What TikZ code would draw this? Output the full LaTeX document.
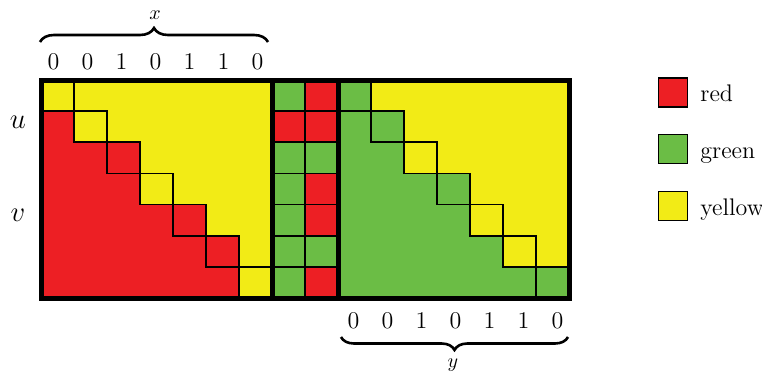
\documentclass[tikz,border=0pt]{standalone}
\usetikzlibrary{decorations.pathreplacing}
\definecolor{cred}{RGB}{237,31,36}
\definecolor{cgreen}{RGB}{107,189,69}
\definecolor{cyellow}{RGB}{242,235,22}
\begin{document}
\begin{tikzpicture}[x=0.5pt,y=-0.5pt,
  thinline/.style={draw=black,line width=0.8pt},
  thickbox/.style={draw=black,line width=2.5pt},
  digit/.style={anchor=base,inner sep=0pt,font=\fontsize{12}{14}\selectfont},
  legtext/.style={anchor=base west,inner sep=0pt,font=\fontsize{12}{14}\selectfont},
  legbox/.style={draw=black,line width=0.8pt,minimum width=14.5pt,minimum height=14.5pt,inner sep=0pt},
  bracestyle/.style={decorate,line width=1.3pt}]
\useasboundingbox (0,0) rectangle (762,375);
\def\cw{33}\def\ch{31.143}
% ---------- left block ----------
\fill[cred] (41,80) rectangle (272,298);
\fill[cyellow] (74,80) -- (272,80) -- (272,{80+6*\ch}) -- (239,{80+6*\ch})
  -- (239,{80+5*\ch}) -- (206,{80+5*\ch}) -- (206,{80+4*\ch}) -- (173,{80+4*\ch})
  -- (173,{80+3*\ch}) -- (140,{80+3*\ch}) -- (140,{80+2*\ch}) -- (107,{80+2*\ch})
  -- (107,{80+1*\ch}) -- (74,{80+1*\ch}) -- cycle;
\foreach \i/\c in {0/cyellow,1/cyellow,2/cred,3/cyellow,4/cred,5/cred,6/cyellow}
  \filldraw[fill=\c,thinline] ({41+\cw*\i},{80+\ch*\i}) rectangle ++(\cw,\ch);
% ---------- middle columns ----------
\foreach \i/\c in {0/cgreen,1/cred,2/cgreen,3/cgreen,4/cgreen,5/cgreen,6/cgreen}
  \filldraw[fill=\c,thinline] (272,{80+\ch*\i}) rectangle ++(\cw,\ch);
\foreach \i/\c in {0/cred,1/cred,2/cgreen,3/cred,4/cred,5/cgreen,6/cred}
  \filldraw[fill=\c,thinline] (305,{80+\ch*\i}) rectangle ++(\cw,\ch);
% ---------- right block ----------
\fill[cgreen] (338,80) rectangle (569,298);
\fill[cyellow] (371,80) -- (569,80) -- (569,{80+6*\ch}) -- (536,{80+6*\ch})
  -- (536,{80+5*\ch}) -- (503,{80+5*\ch}) -- (503,{80+4*\ch}) -- (470,{80+4*\ch})
  -- (470,{80+3*\ch}) -- (437,{80+3*\ch}) -- (437,{80+2*\ch}) -- (404,{80+2*\ch})
  -- (404,{80+1*\ch}) -- (371,{80+1*\ch}) -- cycle;
\foreach \i/\c in {0/cgreen,1/cgreen,2/cyellow,3/cgreen,4/cyellow,5/cyellow,6/cgreen}
  \filldraw[fill=\c,thinline] ({338+\cw*\i},{80+\ch*\i}) rectangle ++(\cw,\ch);
% ---------- thick frames ----------
\draw[thickbox] (41,80) rectangle (272,298);
\draw[thickbox] (272,80) rectangle (338,298);
\draw[thickbox] (338,80) rectangle (569,298);
% ---------- digits ----------
\foreach \d [count=\k from 0] in {0,0,1,0,1,1,0} {
  \node[digit] (tx\k) at ({53.5+34*\k},69) {\d};
  \node[digit] (by\k) at ({353.5+34*\k},328) {\d};
}
% ---------- braces ----------
\coordinate (bxa) at (40,42); \coordinate (bxb) at (268,42);
\draw[bracestyle,decoration={brace,amplitude=7pt}] (bxa) -- (bxb);
\node (lx) at (155,15) {$x$};
\coordinate (bya) at (568,337); \coordinate (byb) at (341,337);
\draw[bracestyle,decoration={brace,amplitude=6.5pt}] (bya) -- (byb);
\node (ly) at (453,365) {$y$};
% ---------- u, v ----------
\node[font=\Large] (lu) at (18,122) {$u$};
\node[font=\Large] (lv) at (18,215) {$v$};
% ---------- legend ----------
\node[legbox,fill=cred] (kr) at (673,92.5) {};
\node[legbox,fill=cgreen] (kg) at (673,149) {};
\node[legbox,fill=cyellow] (ky) at (673,206) {};
\node[legtext] (tr) at (700,101.5) {red};
\node[legtext] (tg) at (700,158) {green};
\node[legtext] (ty) at (700,215) {yellow};
\end{tikzpicture}
\end{document}
